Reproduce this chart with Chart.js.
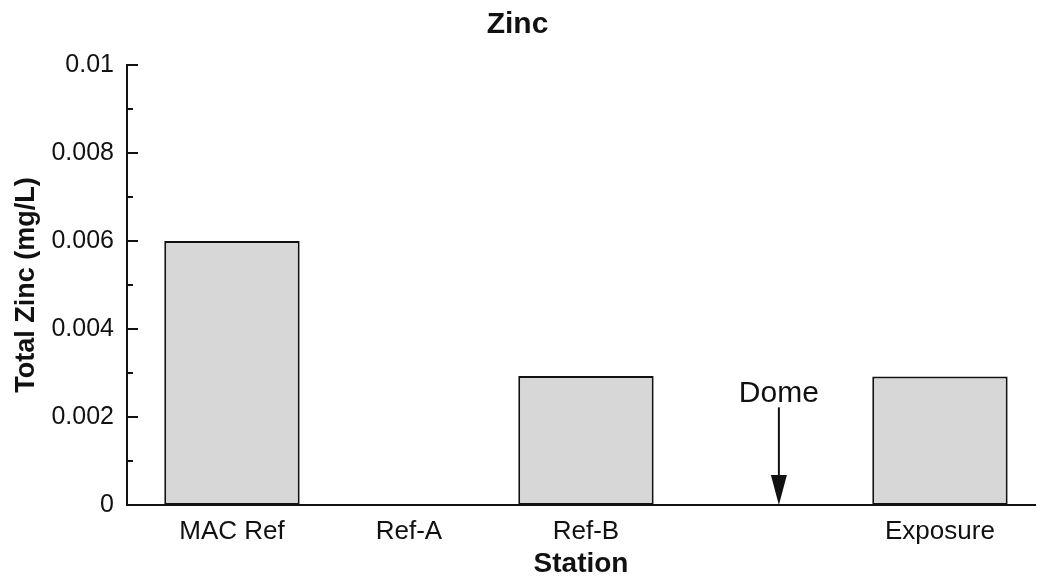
<!DOCTYPE html>
<html>
<head>
<meta charset="utf-8">
<script src="https://cdn.jsdelivr.net/npm/chart.js@4/dist/chart.umd.min.js"></script>
<style>
  body { margin: 0; background: #fff; }
  #wrap { width: 1037px; height: 581px; }
</style>
</head>
<body>
<div id="wrap"><canvas id="zincChart" width="1037" height="581"></canvas></div>
<script>
// data
let stations = ["MAC Ref", "Ref-A", "Ref-B", "", "Exposure"];
let zincValues = [0.006, 0, 0.00293, null, 0.00292];
let yTickLabels = ["0", "0.002", "0.004", "0.006", "0.008", "0.01"];
let domeLabel = "Dome";
let domeX = 3.09;        // station position of the dome marker
let domeArrowTop = 0.00222;

let fontFamily = "'Liberation Sans', Arial, Helvetica, sans-serif";

// short inward tick marks on the y axis (major + minor)
const innerTicks = {
    id: "innerTicks",
    afterDraw(chart) {
        let ctx = chart.ctx;
        let y = chart.scales.y;
        let left = chart.chartArea.left;
        ctx.save();
        ctx.strokeStyle = "#111";
        ctx.lineWidth = 2;
        y.ticks.forEach((t) => {
            let py = y.getPixelForValue(t.value);
            let major = Math.round(t.value * 1000) % 2 === 0;
            ctx.beginPath();
            ctx.moveTo(left, py);
            ctx.lineTo(left + (major ? 11 : 6), py);
            ctx.stroke();
        });
        ctx.restore();
    }
};

// "Dome" label with a downward arrow
const domeMarker = {
    id: "domeMarker",
    afterDraw(chart) {
        let ctx = chart.ctx;
        let px = chart.scales.x.getPixelForValue(domeX);
        let top = chart.scales.y.getPixelForValue(domeArrowTop);
        let bottom = chart.scales.y.getPixelForValue(0);
        ctx.save();
        ctx.fillStyle = "#111";
        ctx.strokeStyle = "#111";
        ctx.font = "30px " + fontFamily;
        ctx.textAlign = "center";
        ctx.textBaseline = "bottom";
        ctx.fillText(domeLabel, px, top + 1);
        ctx.lineWidth = 2;
        ctx.beginPath();
        ctx.moveTo(px, top);
        ctx.lineTo(px, bottom - 28);
        ctx.stroke();
        ctx.beginPath();
        ctx.moveTo(px - 8, bottom - 30);
        ctx.lineTo(px + 8, bottom - 30);
        ctx.lineTo(px, bottom);
        ctx.closePath();
        ctx.fill();
        ctx.restore();
    }
};

let ctx = document.getElementById("zincChart").getContext("2d");
new Chart(ctx, {
    type: "bar",
    data: {
        datasets: [{
            label: "Total Zinc",
            data: zincValues.map((v, i) => ({ x: i, y: v })),
            backgroundColor: "#d7d7d7",
            borderColor: "#111",
            borderWidth: 2,
            borderSkipped: false,
            categoryPercentage: 1,
            barPercentage: 0.765
        }]
    },
    options: {
        responsive: false,
        animation: false,
        layout: { padding: { left: 0, right: 2, top: 0, bottom: 0 } },
        plugins: {
            legend: { display: false },
            tooltip: { enabled: false },
            title: {
                display: true,
                text: "Zinc",
                color: "#111",
                font: { family: fontFamily, size: 30, weight: "bold" },
                padding: { top: 7, bottom: 22 }
            }
        },
        scales: {
            x: {
                type: "linear",
                offset: false,
                min: -0.593,
                max: 4.537,
                afterBuildTicks: (scale) => {
                    scale.ticks = stations.map((s, i) => ({ value: i }));
                },
                afterFit: (scale) => { scale.height = 76; },
                ticks: {
                    color: "#111",
                    font: { family: fontFamily, size: 26 },
                    padding: 11,
                    maxRotation: 0,
                    autoSkip: false,
                    callback: (v) => stations[v] || ""
                },
                grid: { display: false, drawTicks: false },
                border: { display: true, color: "#111", width: 2 },
                title: {
                    display: true,
                    text: "Station",
                    color: "#111",
                    font: { family: fontFamily, size: 28, weight: "bold" },
                    padding: { top: 0, bottom: 0 }
                }
            },
            y: {
                min: 0,
                max: 0.01,
                afterFit: (scale) => { scale.width = 127; },
                ticks: {
                    stepSize: 0.001,
                    color: "#111",
                    font: { family: fontFamily, size: 25 },
                    padding: 13,
                    autoSkip: false,
                    callback: (v) => {
                        let idx = Math.round(v * 1000);
                        return idx % 2 === 0 ? yTickLabels[idx / 2] : "";
                    }
                },
                grid: { display: false, drawTicks: false },
                border: { display: true, color: "#111", width: 2 },
                title: {
                    display: true,
                    text: "Total Zinc (mg/L)",
                    color: "#111",
                    font: { family: fontFamily, size: 27, weight: "bold" },
                    padding: { top: 10, bottom: 0 }
                }
            }
        }
    },
    plugins: [innerTicks, domeMarker]
});
</script>
</body>
</html>
